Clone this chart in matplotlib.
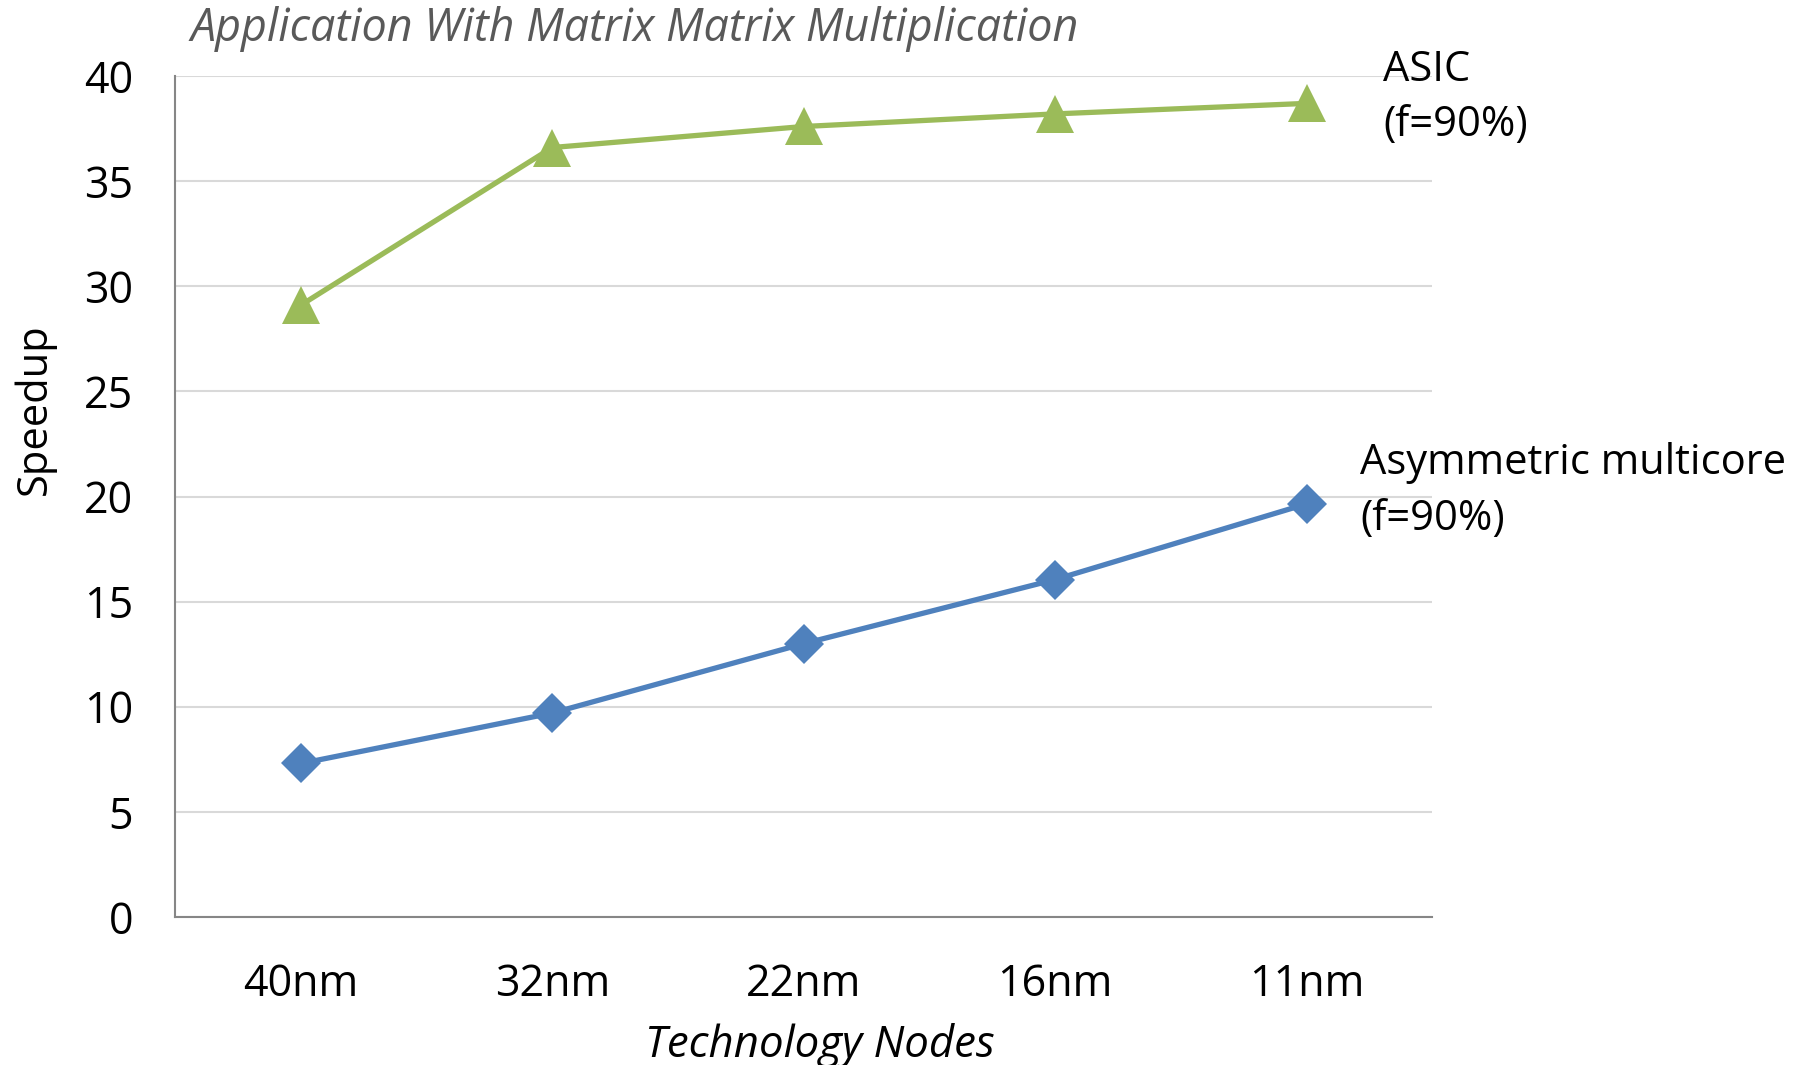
import matplotlib.pyplot as plt

# Data
nodes = ["40nm", "32nm", "22nm", "16nm", "11nm"]
asic_speedup = [29.1, 36.6, 37.6, 38.2, 38.7]
asym_speedup = [7.3, 9.7, 13.0, 16.05, 19.65]
y_ticks = [0, 5, 10, 15, 20, 25, 30, 35, 40]

green = "#9BBB59"
blue = "#4F81BD"

plt.rcParams["font.family"] = ["Open Sans", "DejaVu Sans"]

fig = plt.figure(figsize=(17.95, 10.65), dpi=100)
ax = fig.add_axes([0.0975, 0.139, 0.7005, 0.7896])

x = list(range(len(nodes)))
ax.plot(x, asic_speedup, color=green, lw=3.8, marker="^", ms=27,
        markeredgewidth=0, zorder=3)
ax.plot(x, asym_speedup, color=blue, lw=3.8, marker="D", ms=20,
        markeredgewidth=0, zorder=3)

ax.set_xlim(-0.5, len(nodes) - 0.5)
ax.set_ylim(0, 40)
ax.set_yticks(y_ticks)
ax.set_xticks(x)
ax.set_xticklabels(nodes)
ax.grid(axis="y", color="#D9D9D9", lw=1.5, zorder=0)
ax.set_axisbelow(True)

for side in ["top", "right"]:
    ax.spines[side].set_visible(False)
for side in ["left", "bottom"]:
    ax.spines[side].set_color("#868686")
    ax.spines[side].set_linewidth(1.5)

ax.tick_params(axis="both", length=0, labelsize=31, colors="black")
ax.tick_params(axis="y", pad=30)
ax.tick_params(axis="x", pad=33)

ax.set_ylabel("Speedup", fontsize=30, labelpad=20, y=0.604)
ax.set_xlabel("Technology Nodes", fontsize=31.5, style="italic",
              labelpad=11, x=0.513)

fig.text(0.106, 0.973, "Application With Matrix Matrix Multiplication",
         fontsize=32.3, style="italic", color="#595959", va="center",
         ha="left")

# Series labels next to the last points
ax.annotate("ASIC\n(f=90%)", xy=(4, asic_speedup[-1]), xytext=(1383, 1016),
            textcoords="figure pixels", fontsize=30, va="top", ha="left",
            linespacing=1.4)
ax.annotate("Asymmetric multicore\n(f=90%)", xy=(4, asym_speedup[-1]),
            xytext=(1360, 623), textcoords="figure pixels", fontsize=30,
            va="top", ha="left", linespacing=1.45)

fig.savefig("out.png", dpi=100)
